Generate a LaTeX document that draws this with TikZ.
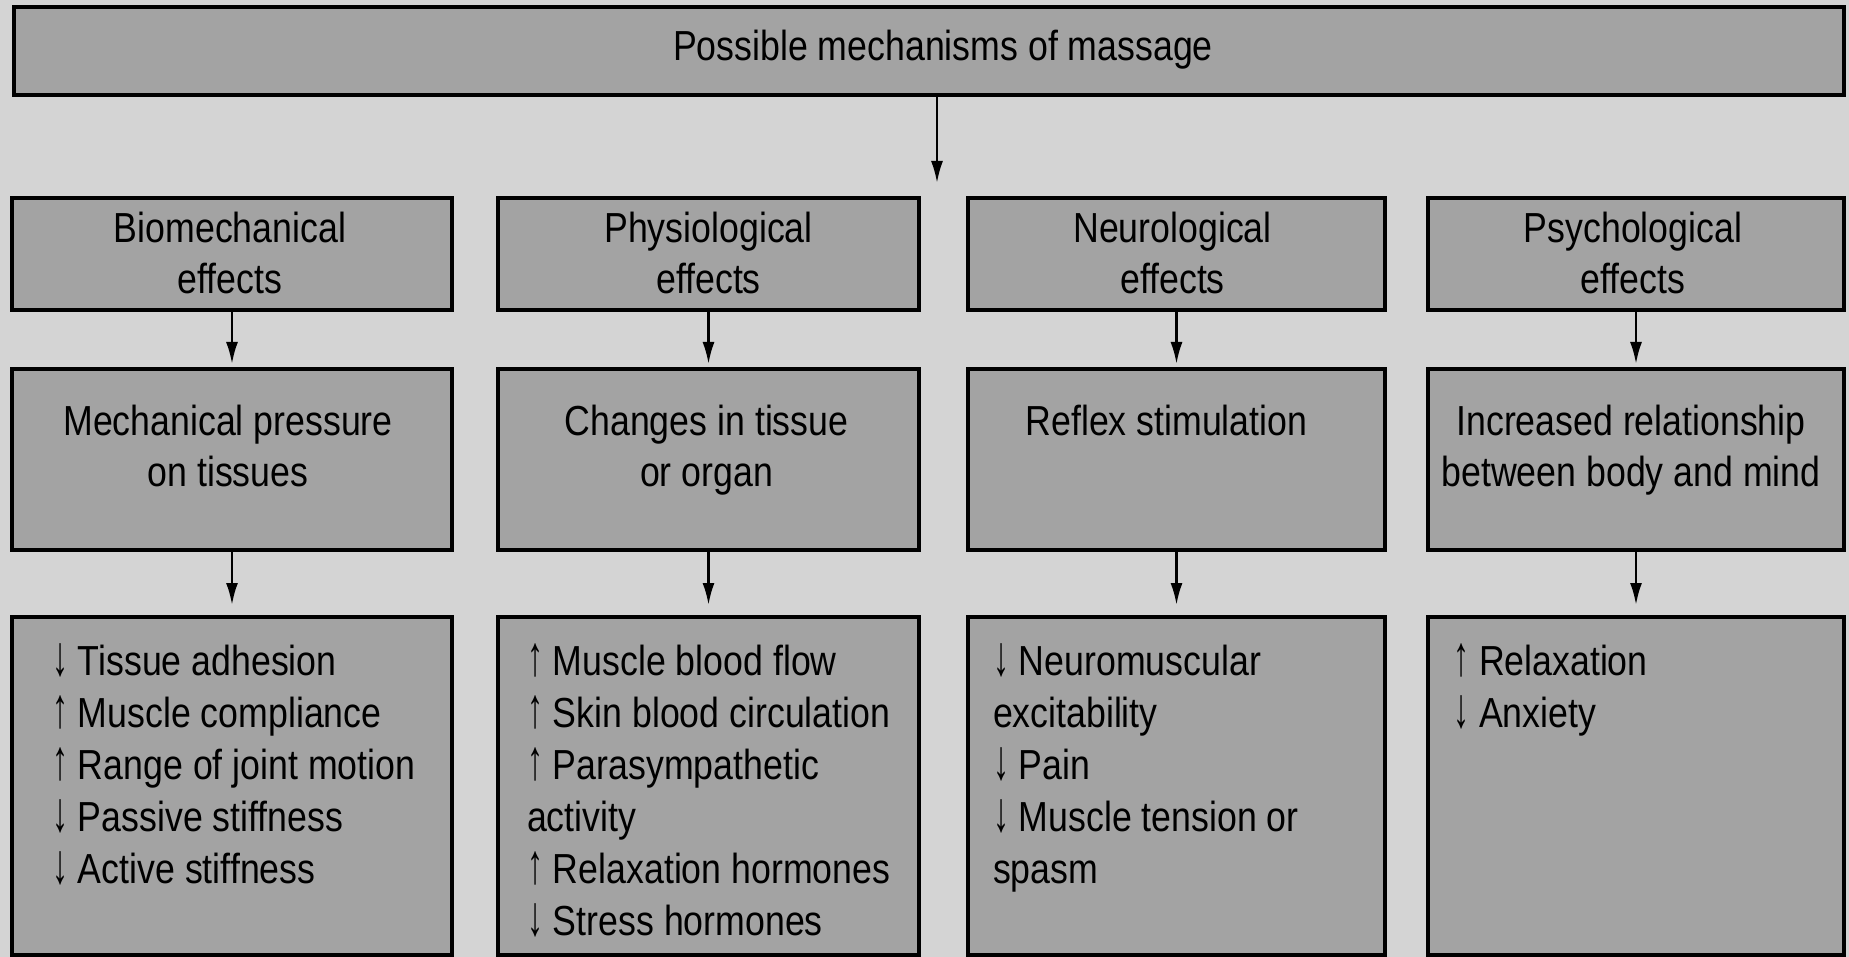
\documentclass[tikz,border=0pt]{standalone}
\usepackage{fontspec}
\usepackage{graphicx}
\setmainfont{Liberation Sans}[FakeStretch=0.85]
\usetikzlibrary{arrows.meta,calc}
\definecolor{bgcol}{HTML}{D4D4D4}
\definecolor{boxcol}{HTML}{A3A3A3}
\newcommand\arrUp{\scalebox{0.9}[1.35]{↑}}
\newcommand\arrDn{\scalebox{0.9}[1.35]{↓}}
\begin{document}
\begin{tikzpicture}[x=1pt,y=-1pt,
  box/.style={draw=black, line width=3.5pt, fill=boxcol, inner sep=0pt, outer sep=0pt},
  topbox/.style={box, line width=4pt},
  txt/.style={inner sep=0pt, outer sep=0pt, font=\fontsize{42}{51}\selectfont},
  listtxt/.style={inner sep=0pt, outer sep=0pt, font=\fontsize{42}{52}\selectfont},
  arr/.style={line width=2.5pt, -{Latex[length=22pt,width=12pt]}}
]
\useasboundingbox (0,0) rectangle (1849,957);
\fill[bgcol] (0,0) rectangle (1849,957);

% top box
\node[topbox, anchor=north west, minimum width=1830pt, minimum height=88pt] (top) at (14,7) {};
\node[txt, anchor=base] (toptxt) at ($(top.north)+(14,54)$) {Possible mechanisms of massage};
\coordinate (topend) at (937,183);
\draw[arr] (top.south -| topend) -- (topend);

% row 2
\node[box, anchor=north west, minimum width=440pt, minimum height=112pt] (bio) at (12,198) {};
\node[box, anchor=north west, minimum width=421pt, minimum height=112pt] (phy) at (498,198) {};
\node[box, anchor=north west, minimum width=417pt, minimum height=112pt] (neu) at (968,198) {};
\node[box, anchor=north west, minimum width=416pt, minimum height=112pt] (psy) at (1428,198) {};

\node[txt, anchor=base] (biot) at ($(bio.north)+(-2,45)$) {\parbox[t]{430pt}{\centering Biomechanical\\effects}};
\node[txt, anchor=base] (phyt) at ($(phy.north)+(0,45)$) {\parbox[t]{410pt}{\centering Physiological\\effects}};
\node[txt, anchor=base] (neut) at ($(neu.north)+(-4,45)$) {\parbox[t]{410pt}{\centering Neurological\\effects}};
\node[txt, anchor=base] (psyt) at ($(psy.north)+(-3,45)$) {\parbox[t]{410pt}{\centering Psychological\\effects}};

% row 3
\node[box, anchor=north west, minimum width=440pt, minimum height=181pt] (mech) at (12,369) {};
\node[box, anchor=north west, minimum width=421pt, minimum height=181pt] (chg) at (498,369) {};
\node[box, anchor=north west, minimum width=417pt, minimum height=181pt] (refl) at (968,369) {};
\node[box, anchor=north west, minimum width=416pt, minimum height=181pt] (rel) at (1428,369) {};

\node[txt, anchor=base] (mecht) at ($(mech.north)+(-4,66)$) {\parbox[t]{430pt}{\centering Mechanical pressure\\on tissues}};
\node[txt, anchor=base] (chgt) at ($(chg.north)+(-2,66)$) {\parbox[t]{410pt}{\centering Changes in tissue\\or organ}};
\node[txt, anchor=base] (reflt) at ($(refl.north)+(-10,66)$) {\parbox[t]{410pt}{\centering Reflex stimulation}};
\node[txt, anchor=base] (relt) at ($(rel.north)+(-5,66)$) {\parbox[t]{416pt}{\centering Increased relationship\\between body and mind}};

% row 4
\node[box, anchor=north west, minimum width=440pt, minimum height=338pt] (l1) at (12,617) {};
\node[box, anchor=north west, minimum width=421pt, minimum height=338pt] (l2) at (498,617) {};
\node[box, anchor=north west, minimum width=417pt, minimum height=338pt] (l3) at (968,617) {};
\node[box, anchor=north west, minimum width=416pt, minimum height=338pt] (l4) at (1428,617) {};

\node[listtxt, anchor=base west] (l1t) at ($(l1.north west)+(40,58)$) {\parbox[t]{400pt}{\raggedright
\arrDn{} Tissue adhesion\\\arrUp{} Muscle compliance\\\arrUp{} Range of joint motion\\\arrDn{} Passive stiffness\\\arrDn{} Active stiffness}};
\node[listtxt, anchor=base west] (l2t) at ($(l2.north west)+(29,58)$) {\parbox[t]{400pt}{\raggedright
\arrUp{} Muscle blood flow\\\arrUp{} Skin blood circulation\\\arrUp{} Parasympathetic\\activity\\\arrUp{} Relaxation hormones\\\arrDn{} Stress hormones}};
\node[listtxt, anchor=base west] (l3t) at ($(l3.north west)+(25,58)$) {\parbox[t]{390pt}{\raggedright
\arrDn{} Neuromuscular\\excitability\\\arrDn{} Pain\\\arrDn{} Muscle tension or\\spasm}};
\node[listtxt, anchor=base west] (l4t) at ($(l4.north west)+(25,58)$) {\parbox[t]{390pt}{\raggedright
\arrUp{} Relaxation\\\arrDn{} Anxiety}};

% arrows
\foreach \a/\b in {bio/mech, phy/chg, neu/refl, psy/rel}
  \draw[arr, shorten >=5pt] (\a.south) -- (\b.north);
\foreach \a/\b in {mech/l1, chg/l2, refl/l3, rel/l4}
  \draw[arr, shorten >=12pt] (\a.south) -- (\b.north);
\end{tikzpicture}
\end{document}
